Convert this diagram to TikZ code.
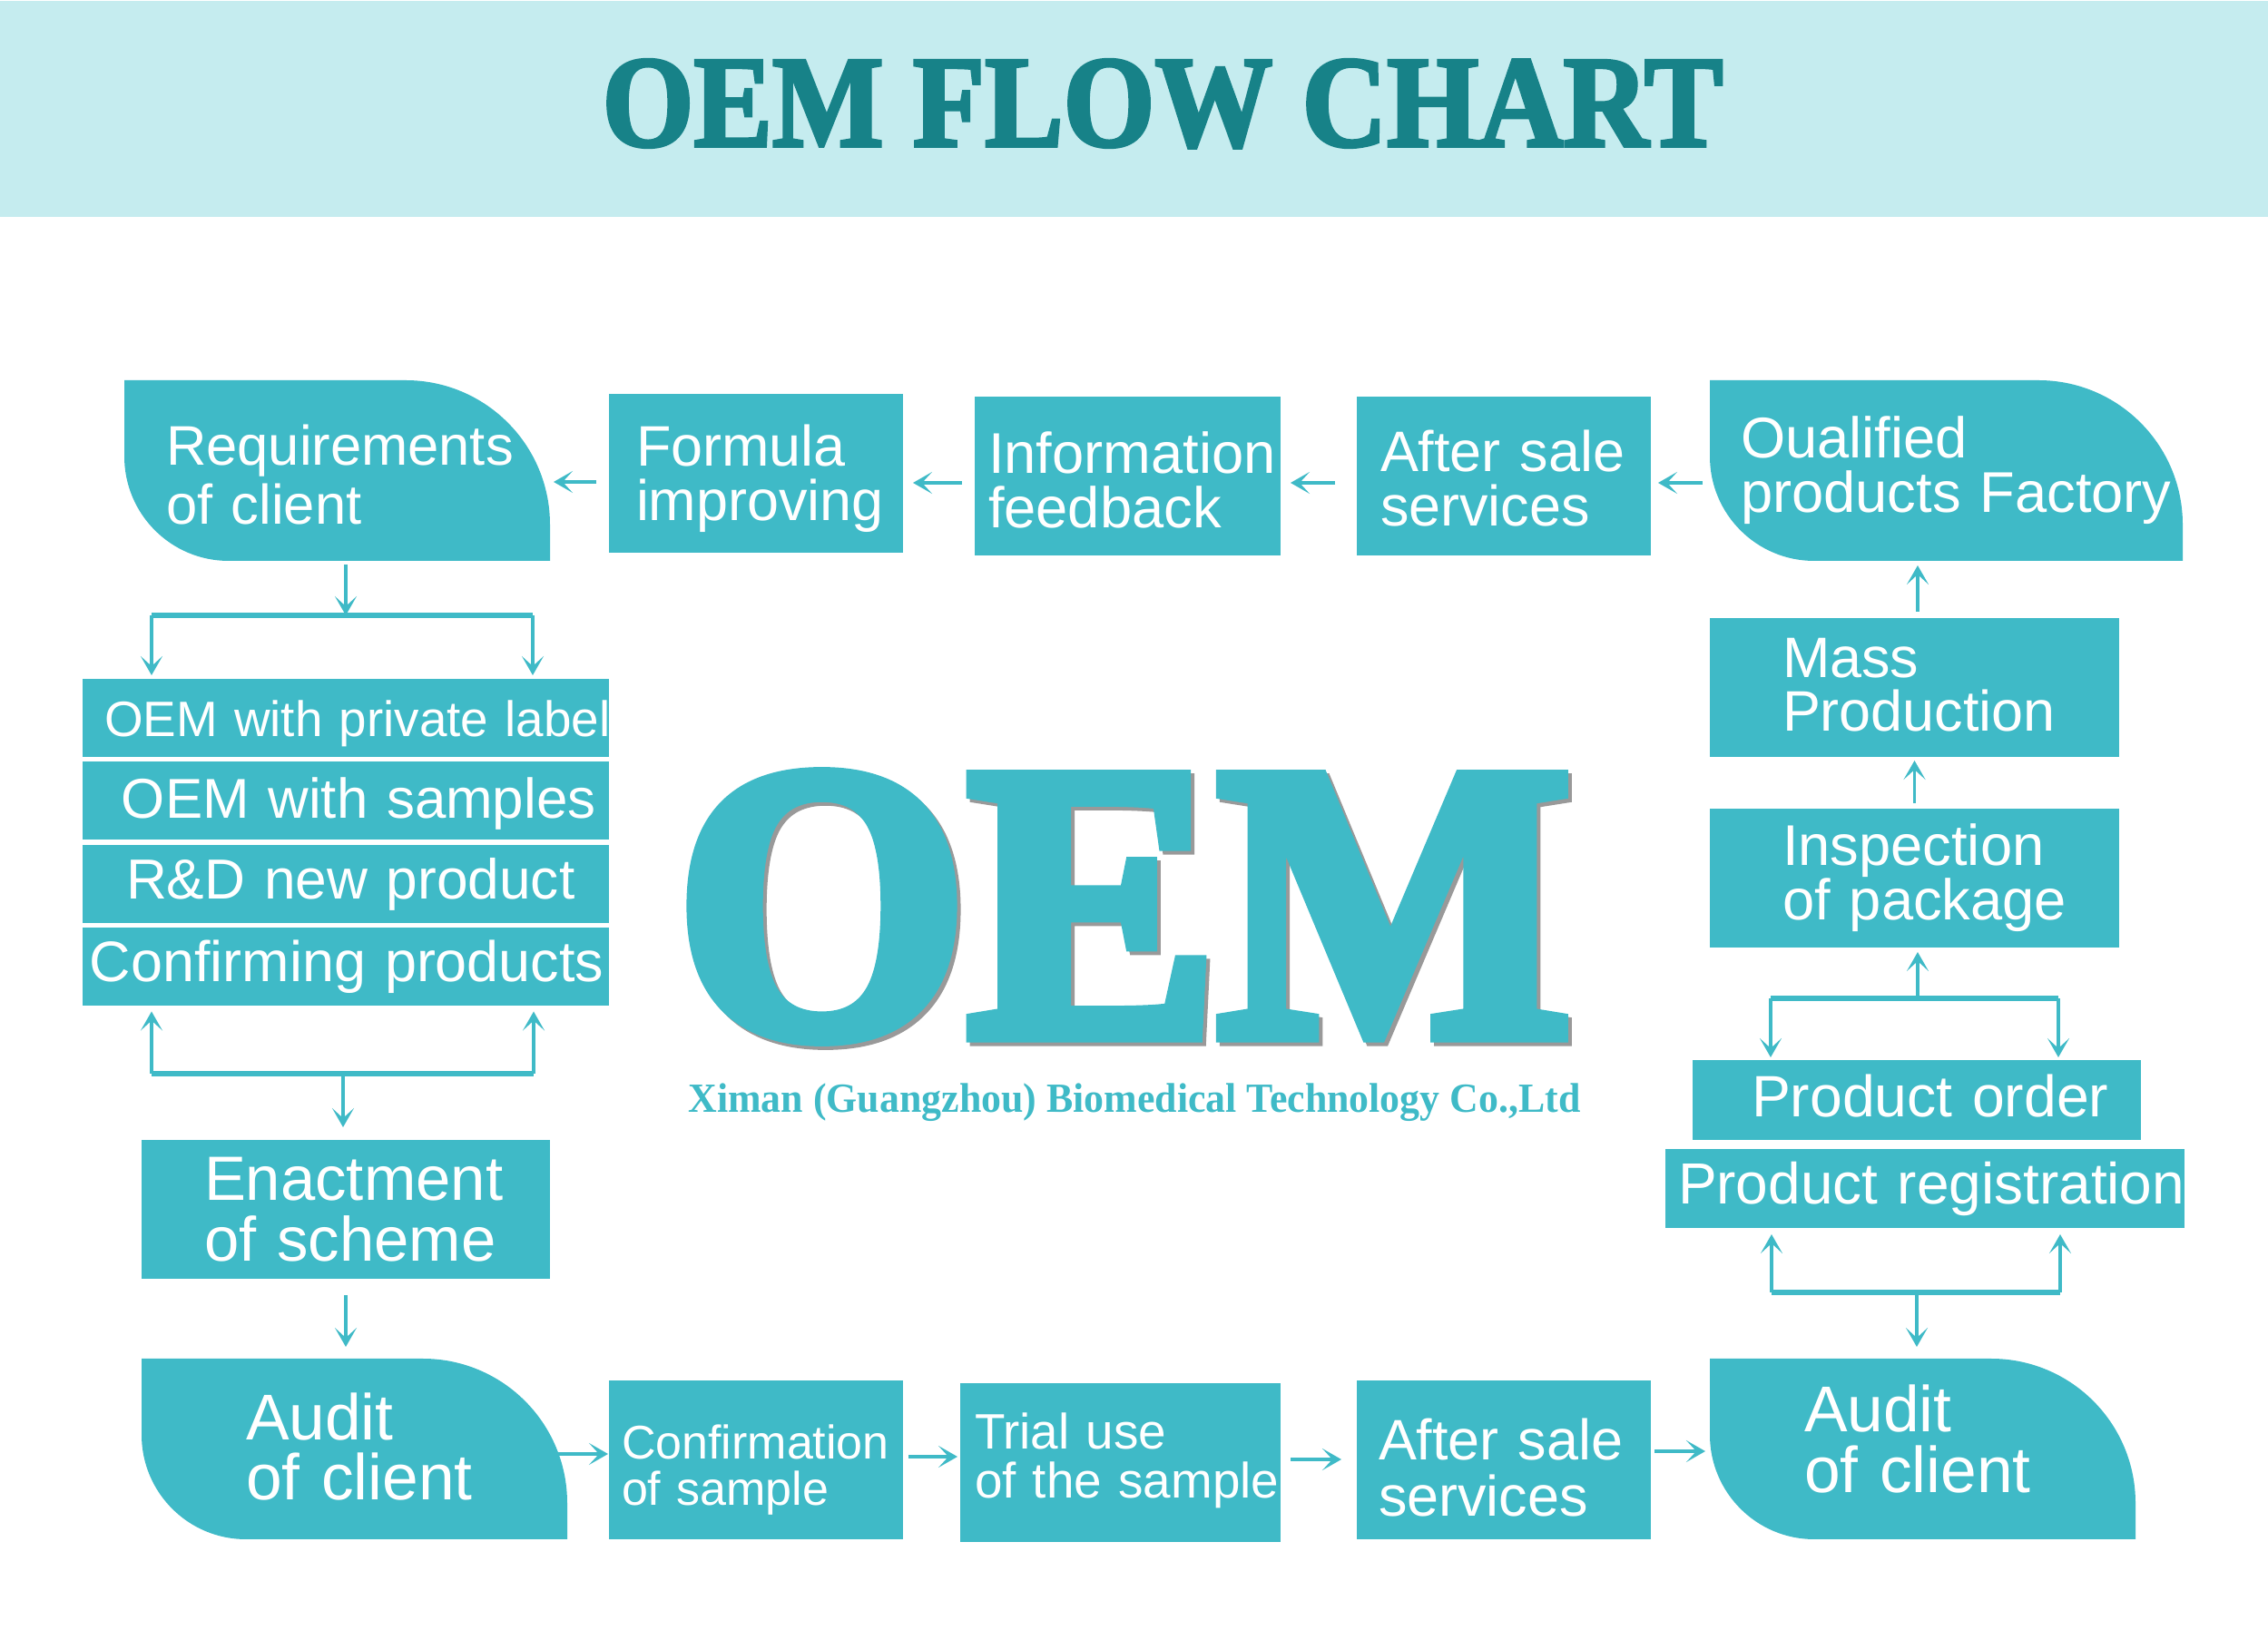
\documentclass[tikz,border=0pt]{standalone}
\usepackage{fontspec}
\setmainfont{Liberation Sans}
\newfontface\fatserif[FakeBold=2.5,FakeStretch=0.9]{Liberation Serif Bold}
\newfontface\logoserif[FakeBold=4,FakeStretch=0.955]{Liberation Serif Bold}
\newfontface\slimserif[FakeStretch=0.96]{Liberation Serif Bold}
\hyphenpenalty=10000
\exhyphenpenalty=10000
\usepackage{xcolor}
\usepackage{tikz}
\usetikzlibrary{positioning,arrows.meta,backgrounds}
\definecolor{oemTeal}{RGB}{63,186,199}
\definecolor{oemDark}{RGB}{23,130,136}
\definecolor{headBg}{RGB}{197,236,239}
\newcommand{\textdown}[1]{\endgraf\vspace*{#1cm}}

\begin{document}
\begin{tikzpicture}[
  % width, height, left pad, font size, leading
  flat/.style n args={5}{fill=oemTeal,text=white,align=left,inner ysep=0pt,inner xsep=#3cm,outer sep=0pt,
    text width={(#1-2*#3)*1cm},minimum height=#2cm,font=\fontsize{#4}{#5}\selectfont},
  leaf/.style n args={5}{flat={#1}{#2}{#3}{#4}{#5},fill=none},
  down/.style={execute at begin node={\textdown{#1}}},
  leafpath/.style={insert path={(#1.north west) -- ([xshift=-1.59cm]#1.north east)
    arc[start angle=90,end angle=0,radius=1.59cm] -- (#1.south east)
    -- ([xshift=1.15cm]#1.south west) arc[start angle=270,end angle=180,radius=1.15cm] -- cycle}},
  flow/.style={draw=oemTeal,line width=1pt,-{Stealth[length=2.1mm,width=2.4mm,inset=1.1mm]}},
  bus/.style={draw=oemTeal,line width=1.7pt}]
\useasboundingbox (0,0) rectangle (24.99,18.18);
% --- header ---
\node[fill=headBg,minimum width=24.99cm,minimum height=2.38cm,inner sep=0pt,anchor=north] (head) at (12.495,18.18) {};
\node[anchor=base,text=oemDark,font=\fatserif\fontsize{41}{41}\selectfont] (title) at (12.81,16.57) {OEM FLOW CHART};
% --- centre logo ---
\node[anchor=base,text=gray!80,font=\logoserif\fontsize{123}{123}\selectfont] (logosh) at (12.42,6.74) {OEM};
\node[anchor=base,text=oemTeal,font=\logoserif\fontsize{123}{123}\selectfont] (logo) at (12.38,6.78) {OEM};
\node[anchor=base,text=oemTeal,font=\slimserif\fontsize{13}{13}\selectfont] (firm) at (12.5,5.92) {Ximan (Guangzhou) Biomedical Technology Co.,Ltd};
% --- top row ---
\node[leaf={4.69}{1.99}{0.46}{17.5}{18.5},down=-0.12] (req) at (3.715,12.995) {Requirements\\of~client};
\node[flat={3.24}{1.75}{0.30}{17.9}{17},down=-0.03] (form) at (8.33,12.965) {Formula\\improving};
\node[flat={3.37}{1.75}{0.15}{18}{17},down=-0.044] (info) at (12.425,12.935) {Information\\feedback};
\node[flat={3.24}{1.75}{0.26}{17.9}{17},down=-0.084] (aftera) at (16.57,12.935) {After~sale\\services};
\node[leaf={5.21}{1.99}{0.34}{18}{17}] (qual) at (21.445,12.995) {Oualified\\products~Factory};
% --- left column ---
\node[flat={5.8}{0.86}{0.24}{15.6}{16},down=-0.03] (priv) at (3.81,10.27) {OEM~with~private~label};
\node[flat={5.8}{0.86}{0.43}{17.6}{18},down=-0.13,below=0.055cm of priv] (samp) {OEM~with~samples};
\node[flat={5.8}{0.86}{0.48}{17.7}{18},below=0.055cm of samp] (rnd) {R\&D~new~product};
\node[flat={5.8}{0.86}{0.08}{17.9}{18},below=0.055cm of rnd] (cprod) {Confirming~products};
\node[flat={4.5}{1.53}{0.69}{19.6}{19}] (enact) at (3.81,4.855) {Enactment\\of~scheme};
% --- bottom row ---
\node[leaf={4.69}{1.99}{1.15}{20.3}{19},down=-0.2] (audl) at (3.905,2.215) {Audit\\of~client};
\node[flat={3.24}{1.75}{0.14}{14.8}{14.5},down=0.09] (conf) at (8.33,2.095) {Confirmation\\of~sample};
\node[flat={3.53}{1.75}{0.16}{15.6}{15.4},down=-0.19] (trial) at (12.345,2.065) {Trial~use\\of~the~sample};
\node[flat={3.24}{1.75}{0.24}{17.9}{17.7},down=0] (afterb) at (16.57,2.095) {After~sale\\services};
\node[leaf={4.69}{1.99}{1.04}{20.3}{19},down=-0.364] (audr) at (21.185,2.215) {Audit\\of~client};
% --- right column ---
\node[flat={4.51}{1.53}{0.80}{17.9}{16.8},down=-0.22] (mass) at (21.095,10.605) {Mass\\Production};
\node[flat={4.51}{1.53}{0.80}{18}{17}] (insp) at (21.095,8.505) {Inspection\\of~package};
\node[flat={4.94}{0.88}{0.65}{18.3}{18},down=-0.25] (order) at (21.12,6.06) {Product~order};
\node[flat={5.72}{0.87}{0.14}{18.2}{18}] (regis) at (21.21,5.085) {Product~registration};
% --- rounded boxes ---
\begin{scope}[on background layer]
\fill[oemTeal,leafpath=req];
\fill[oemTeal,leafpath=qual];
\fill[oemTeal,leafpath=audl];
\fill[oemTeal,leafpath=audr];
\end{scope}
% --- top row arrows ---
\draw[flow,shorten <=0.14cm,shorten >=0.04cm] ([yshift=-0.095cm]form.west) -- ([yshift=-0.095cm]form.west -| req.east);
\draw[flow,shorten <=0.14cm,shorten >=0.11cm] ([yshift=-0.075cm]info.west) -- ([yshift=-0.075cm]info.west -| form.east);
\draw[flow,shorten <=0.24cm,shorten >=0.11cm] ([yshift=-0.075cm]aftera.west) -- ([yshift=-0.075cm]aftera.west -| info.east);
\draw[flow,shorten <=0.08cm,shorten >=0.08cm] ([yshift=-0.135cm]qual.west) -- ([yshift=-0.135cm]qual.west -| aftera.east);
% --- left column arrows ---
\coordinate (busa) at (3.81,11.40);
\coordinate (busal) at (1.67,11.40);
\coordinate (busar) at (5.87,11.40);
\draw[bus] (busal) -- (busar);
\draw[flow,shorten <=0.04cm] (req.south -| busa) -- (busa);
\draw[flow,shorten >=0.04cm] (busal) -- (busal |- priv.north);
\draw[flow,shorten >=0.04cm] (busar) -- (busar |- priv.north);
\coordinate (busb) at (3.78,6.35);
\coordinate (busbl) at (1.67,6.35);
\coordinate (busbr) at (5.88,6.35);
\draw[bus] (busbl) -- (busbr);
\draw[flow,shorten >=0.06cm] (busbl) -- (busbl |- cprod.south);
\draw[flow,shorten >=0.06cm] (busbr) -- (busbr |- cprod.south);
\draw[flow,shorten >=0.14cm] (busb) -- (busb |- enact.north);
\draw[flow,shorten <=0.18cm,shorten >=0.13cm] (enact.south) -- (enact.south |- audl.north);
% --- bottom row arrows ---
\draw[flow,shorten >=0.01cm] ([yshift=-0.055cm,xshift=-0.11cm]audl.east) -- ([yshift=-0.055cm]audl.east -| conf.west);
\draw[flow,shorten <=0.06cm,shorten >=0.03cm] ([yshift=0.035cm]conf.east) -- ([yshift=0.035cm]conf.east -| trial.west);
\draw[flow,shorten <=0.11cm,shorten >=0.17cm] ([yshift=0.035cm]trial.east) -- ([yshift=0.035cm]trial.east -| afterb.west);
\draw[flow,shorten <=0.04cm,shorten >=0.05cm] ([yshift=0.095cm]afterb.east) -- ([yshift=0.095cm]afterb.east -| audr.west);
% --- right column arrows ---
\coordinate (busc) at (21.12,3.94);
\coordinate (buscl) at (19.52,3.94);
\coordinate (buscr) at (22.70,3.94);
\draw[bus] (buscl) -- (buscr);
\draw[flow,shorten >=0.07cm] (buscl) -- (buscl |- regis.south);
\draw[flow,shorten >=0.07cm] (buscr) -- (buscr |- regis.south);
\draw[flow,shorten >=0.13cm] (busc) -- (busc |- audr.north);
\coordinate (busd) at (21.13,7.18);
\coordinate (busdl) at (19.51,7.18);
\coordinate (busdr) at (22.68,7.18);
\draw[bus] (busdl) -- (busdr);
\draw[flow,shorten >=0.03cm] (busdl) -- (busdl |- order.north);
\draw[flow,shorten >=0.03cm] (busdr) -- (busdr |- order.north);
\draw[flow,shorten >=0.05cm] (busd) -- (busd |- insp.south);
\draw[flow,shorten <=0.06cm,shorten >=0.04cm] (insp.north) -- (insp.north |- mass.south);
\draw[flow,shorten <=0.07cm,shorten >=0.05cm] (mass.north -| busd) -- (busd |- qual.south);
\end{tikzpicture}
\end{document}
